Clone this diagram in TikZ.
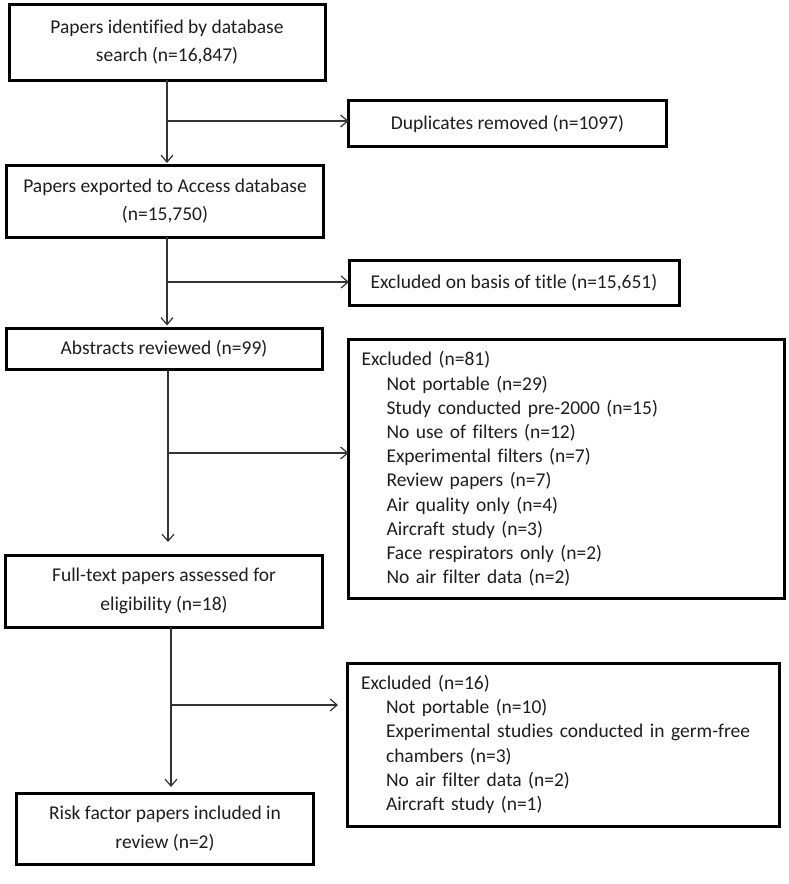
\documentclass[tikz,border=0pt]{standalone}
\usepackage{fontspec}
\setmainfont{Carlito}[Ligatures={NoCommon}]
\usetikzlibrary{arrows.meta}
\definecolor{txt}{HTML}{1E1E1E}
\definecolor{ln}{HTML}{333333}
\tikzset{
  mainbox/.style={draw=black, line width=3pt, outer sep=0pt, inner sep=0pt,
    align=center, text=txt, font=\fontsize{19.5}{28.5}\selectfont},
  listbox/.style={draw=black, line width=3pt, outer sep=0pt, inner ysep=0pt,
    align=left, text=txt, font=\fontsize{19.5}{24.2}\selectfont},
  flow/.style={draw=ln, line width=1.2pt, -{Straight Barb[length=7pt,width=12pt,line width=1.2pt]}}
}
\begin{document}
\begin{tikzpicture}[x=1pt,y=-1pt]
\useasboundingbox[fill=white] (0,0) rectangle (789,884);
\node[mainbox, minimum width=316pt, minimum height=76pt] (b1) at (167,42)
  {Papers identified by database\\search (n=16,847)};
\node[mainbox, minimum width=318pt, minimum height=46pt] (dup) at (507.5,123.5)
  {Duplicates removed (n=1097)};
\node[mainbox, minimum width=317pt, minimum height=72pt] (b2) at (165,201)
  {Papers exported to Access database\\(n=15,750)};
\node[mainbox, minimum width=330pt, minimum height=45pt] (title) at (514,283)
  {Excluded on basis of title (n=15,651)};
\node[mainbox, minimum width=316pt, minimum height=41pt] (b3) at (164,349)
  {Abstracts reviewed (n=99)};
\node[listbox, inner xsep=13pt, text width=410pt, minimum height=259pt] (ex81) at (566.5,469)
  {Excluded (n=81)\\
   \hspace*{25pt}Not portable (n=29)\\
   \hspace*{25pt}Study conducted pre-2000 (n=15)\\
   \hspace*{25pt}No use of filters (n=12)\\
   \hspace*{25pt}Experimental filters (n=7)\\
   \hspace*{25pt}Review papers (n=7)\\
   \hspace*{25pt}Air quality only (n=4)\\
   \hspace*{25pt}Aircraft study (n=3)\\
   \hspace*{25pt}Face respirators only (n=2)\\
   \hspace*{25pt}No air filter data (n=2)};
\node[mainbox, minimum width=317pt, minimum height=72pt] (b4) at (164,591)
  {Full-text papers assessed for\\eligibility (n=18)};
\node[listbox, inner xsep=14pt, text width=404pt, minimum height=163pt] (ex16) at (563,744.5)
  {Excluded (n=16)\\
   \hspace*{25pt}Not portable (n=10)\\
   \hspace*{25pt}Experimental studies conducted in germ-free\\
   \hspace*{25pt}chambers (n=3)\\
   \hspace*{25pt}No air filter data (n=2)\\
   \hspace*{25pt}Aircraft study (n=1)};
\node[mainbox, minimum width=297pt, minimum height=71pt] (b5) at (165,828.5)
  {Risk factor papers included in\\review (n=2)};
% junctions
\coordinate (j1) at (167,121);
\coordinate (j2) at (167,282);
\coordinate (j3) at (168,453);
\coordinate (j4) at (171,705);
\draw[flow, shorten >=2pt] (j1 |- b1.south) -- (j1 |- b2.north);
\draw[flow] (j1) -- (j1 -| dup.west);
\draw[flow, shorten >=3pt] (j2 |- b2.south) -- (j2 |- b3.north);
\draw[flow] (j2) -- (j2 -| title.west);
\draw[flow, shorten >=13pt] (j3 |- b3.south) -- (j3 |- b4.north);
\draw[flow] (j3) -- (j3 -| ex81.west);
\draw[flow, shorten >=6pt] (j4 |- b4.south) -- (j4 |- b5.north);
\draw[flow, shorten >=9pt] (j4) -- (j4 -| ex16.west);
\end{tikzpicture}
\end{document}
